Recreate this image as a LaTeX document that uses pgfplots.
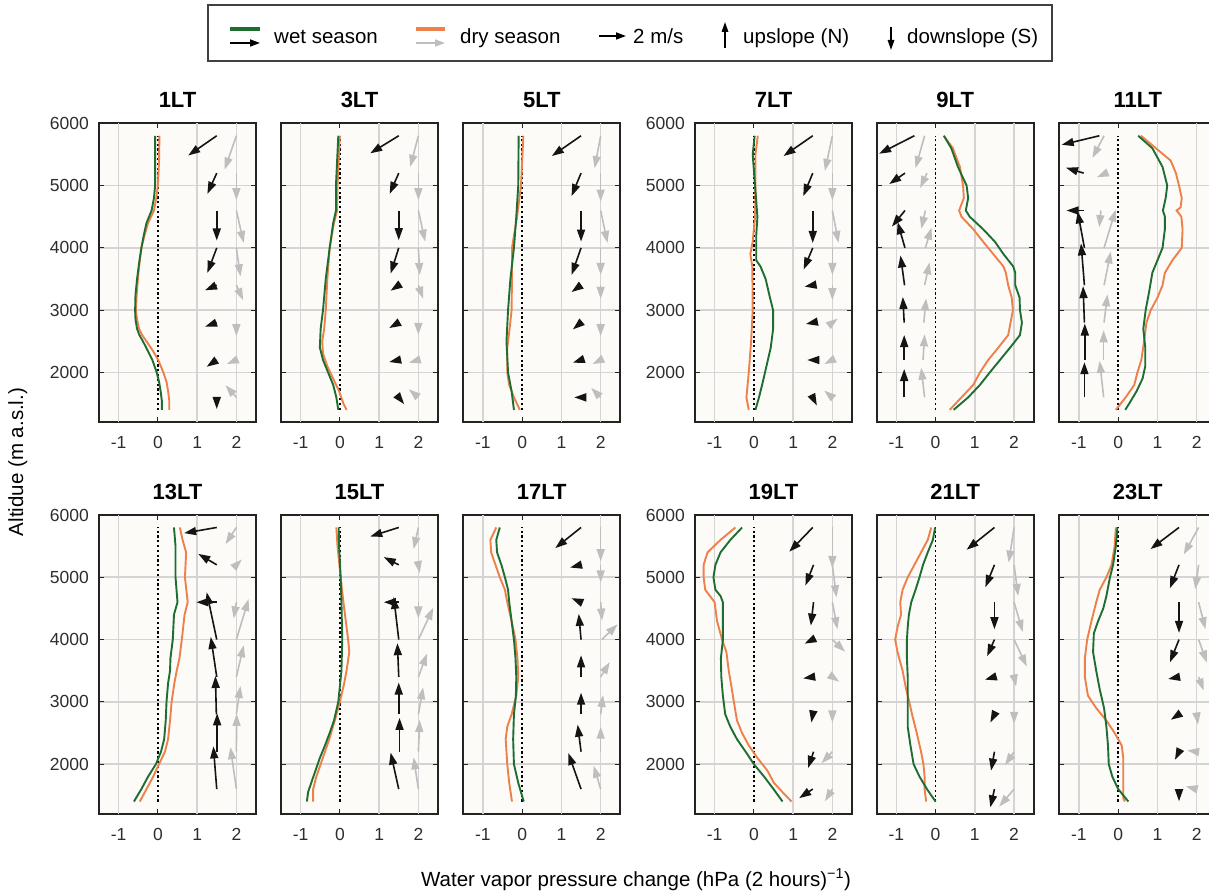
\documentclass[border=0pt]{standalone}
\usepackage{fontspec}
\setmainfont{Liberation Sans}
\usepackage{pgfplots}
\pgfplotsset{compat=1.18}
\usetikzlibrary{arrows.meta}
\definecolor{wetgreen}{RGB}{30,110,50}
\definecolor{dryorange}{RGB}{238,128,75}
\definecolor{arrgray}{RGB}{190,190,190}
\definecolor{gridgray}{RGB}{212,212,212}
\definecolor{bgcol}{RGB}{252,251,248}
\definecolor{framecol}{RGB}{35,35,35}
\definecolor{ticklab}{RGB}{45,45,45}
\newcommand\tickfont{\fontsize{17.5bp}{20bp}\selectfont}
\newcommand\legfont{\fontsize{20.5bp}{24bp}\selectfont}
\pgfplotsset{
  panel/.style={
    scale only axis, width=157bp, height=299bp,
    xmin=-1.5, xmax=2.5, ymin=1200, ymax=6000,
    xtick={-1,0,1,2}, xticklabels={-1,0,1,2},
    ytick={2000,3000,4000,5000,6000},
    tick align=inside, tick pos=both,
    major tick length=5bp,
    tick style={draw=framecol, line width=1bp},
    axis line style={draw=framecol, line width=1.8bp},
    axis background/.style={fill=bgcol},
    ymajorgrids,
    extra x ticks={-1,1,2}, extra x tick labels={},
    extra x tick style={xmajorgrids=true, major tick length=0pt},
    grid style={draw=gridgray, line width=1.6bp},
    xticklabel style={anchor=north, inner sep=0pt, yshift=-14bp, font=\tickfont, text=ticklab},
    yticklabel style={anchor=east, inner sep=0pt, xshift=-10bp, font=\tickfont, text=ticklab},
    title style={at={(0.5,1)}, anchor=base, yshift=10bp, font=\fontsize{22bp}{24bp}\selectfont\bfseries},
    clip=false,
  },
  ylab/.style={yticklabels={2000,3000,4000,5000,6000}},
  noylab/.style={yticklabels={}},
  wetc/.style={draw=wetgreen, line width=1.9bp, no markers},
  dryc/.style={draw=dryorange, line width=1.9bp, no markers},
  zerol/.style={draw=black, line width=1.6bp, dash pattern=on 2.2bp off 2.6bp, no markers},
  wetq/.style={draw=black!92, fill=black!92, line width=1.6bp, no markers, -{Triangle[length=12bp,width=8bp]}, quiver={u=\thisrow{u}*0.346, v=\thisrow{v}*216.9}},
  dryq/.style={draw=arrgray, fill=arrgray, line width=1.6bp, no markers, -{Triangle[length=12bp,width=8bp]}, quiver={u=\thisrow{u}*0.346, v=\thisrow{v}*216.9}},
}
\begin{document}
\begin{tikzpicture}
%================ 1LT
\begin{axis}[panel, ylab, at={(99bp,471.7bp)}, anchor=south west, title={1LT}]
\addplot[zerol] coordinates {(0,1400) (0,5800)};
\addplot[dryc] table {
x y
0.04 5800
0.03 5400
0.0 5000
-0.04 4800
-0.1 4600
-0.25 4400
-0.34 4200
-0.42 4000
-0.47 3750
-0.51 3500
-0.54 3250
-0.56 3000
-0.53 2850
-0.48 2700
-0.4 2600
-0.29 2500
-0.13 2350
0.01 2200
0.14 2000
0.22 1850
0.26 1700
0.29 1550
0.29 1400
};
\addplot[wetc] table {
x y
-0.07 5800
-0.07 5400
-0.07 5000
-0.1 4800
-0.16 4600
-0.29 4400
-0.36 4200
-0.42 4000
-0.48 3750
-0.53 3500
-0.57 3250
-0.58 3000
-0.57 2850
-0.53 2700
-0.47 2600
-0.38 2500
-0.26 2350
-0.14 2200
-0.03 2000
0.03 1850
0.07 1700
0.1 1550
0.1 1400
};
\addplot[dryq] table {
x y u v
2 5800 -0.86 -2.5
2 5200 0 -2
2 4600 0.54 -2.4
2 4000 0.3 -2.1
2 3400 0.5 -1.1
2 2800 0 -1
2 2200 -0.7 -0.3
2 1600 -0.8 0.9
};
\addplot[wetq] table {
x y u v
1.5 5800 -2.1 -1.46
1.5 5200 -0.69 -1.53
1.5 4600 0 -2.22
1.5 4000 -0.69 -1.85
1.5 3400 -0.86 -0.37
1.5 2800 -0.86 -0.3
1.5 2200 -0.74 -0.5
1.5 1600 0 -0.86
};
\end{axis}
%================ 3LT
\begin{axis}[panel, noylab, at={(281bp,471.7bp)}, anchor=south west, title={3LT}]
\addplot[zerol] coordinates {(0,1400) (0,5800)};
\addplot[dryc] table {
x y
0.0 5800
-0.03 5400
-0.06 5000
-0.07 4600
-0.15 4400
-0.26 4000
-0.32 3500
-0.36 3000
-0.40 2700
-0.45 2500
-0.43 2300
-0.32 2100
-0.17 1900
-0.02 1700
0.09 1500
0.17 1400
};
\addplot[wetc] table {
x y
-0.04 5800
-0.07 5400
-0.1 5000
-0.1 4600
-0.17 4400
-0.26 4000
-0.36 3500
-0.43 3000
-0.49 2700
-0.51 2400
-0.43 2200
-0.3 2000
-0.17 1800
-0.09 1600
-0.04 1400
};
\addplot[dryq] table {
x y u v
2 5800 -0.6 -2.3
2 5200 0 -2
2 4600 0.5 -2.3
2 4000 0.1 -2
2 3400 0.35 -1.0
2 2800 0 -0.9
2 2200 -0.7 -0.2
2 1600 -0.7 0.6
};
\addplot[wetq] table {
x y u v
1.5 5800 -2.1 -1.3
1.5 5200 -0.67 -1.53
1.5 4600 0 -2.2
1.5 4000 -0.6 -1.9
1.5 3400 -0.6 -0.4
1.5 2800 -0.7 -0.4
1.5 2200 -0.7 -0.15
1.5 1600 0.4 -0.5
};
\end{axis}
%================ 5LT
\begin{axis}[panel, noylab, at={(463.3bp,471.7bp)}, anchor=south west, title={5LT}]
\addplot[zerol] coordinates {(0,1400) (0,5800)};
\addplot[dryc] table {
x y
0.03 5800
-0.03 5000
-0.13 4500
-0.26 4000
-0.26 3500
-0.27 3000
-0.32 2700
-0.38 2400
-0.38 2000
-0.33 1800
-0.21 1600
-0.06 1400
};
\addplot[wetc] table {
x y
-0.09 5800
-0.1 5000
-0.15 4500
-0.21 4000
-0.3 3500
-0.36 3000
-0.4 2500
-0.36 2000
-0.27 1700
-0.21 1400
};
\addplot[dryq] table {
x y u v
2 5800 -0.45 -2.4
2 5200 0 -2.1
2 4600 0.5 -2.4
2 4000 0 -2
2 3400 0 -1
2 2800 0 -1
2 2200 -0.6 -0.3
2 1600 -0.7 0.7
};
\addplot[wetq] table {
x y u v
1.5 5800 -2.15 -1.5
1.5 5200 -0.7 -1.7
1.5 4600 0 -2.3
1.5 4000 -0.7 -2.0
1.5 3400 -0.7 -0.5
1.5 2800 -0.6 -0.5
1.5 2200 -0.6 -0.2
1.5 1600 -0.5 0
};
\end{axis}
%================ 7LT
\begin{axis}[panel, ylab, at={(695bp,471.7bp)}, anchor=south west, title={7LT}]
\addplot[zerol] coordinates {(0,1400) (0,5800)};
\addplot[dryc] table {
x y
0.1 5800
0.04 5500
0.04 5000
0.03 4500
-0.03 4100
-0.09 3900
-0.04 3700
-0.03 3000
-0.07 2500
-0.13 2000
-0.19 1600
-0.13 1400
};
\addplot[wetc] table {
x y
0.02 5800
-0.03 5500
0.03 5000
0.09 4500
0.06 4200
0.06 3800
0.17 3700
0.3 3500
0.41 3200
0.49 3000
0.49 2700
0.43 2400
0.32 2100
0.21 1800
0.13 1600
0.04 1400
};
\addplot[dryq] table {
x y u v
2 5800 -0.55 -2.6
2 5200 0 -2
2 4600 0.45 -2.4
2 4000 0 -2
2 3400 0 -1.1
2 2800 0.4 0.3
2 2200 -0.6 -0.3
2 1600 -0.6 0.5
};
\addplot[wetq] table {
x y u v
1.5 5800 -2.15 -1.5
1.5 5200 -0.7 -1.7
1.5 4600 0 -2.4
1.5 4000 -0.67 -1.6
1.5 3400 -0.6 -0.1
1.5 2800 -0.5 -0.1
1.5 2200 -0.4 0
1.5 1600 0.3 -0.6
};
\end{axis}
%================ 9LT
\begin{axis}[panel, noylab, at={(876.7bp,471.7bp)}, anchor=south west, title={9LT}]
\addplot[zerol] coordinates {(0,1400) (0,5800)};
\addplot[dryc] table {
x y
0.21 5800
0.44 5600
0.62 5300
0.70 5000
0.72 4800
0.60 4600
0.66 4500
0.96 4300
1.21 4100
1.47 3900
1.73 3700
1.79 3600
1.85 3400
1.94 3200
1.97 3000
1.91 2800
1.85 2600
1.6 2400
1.34 2200
1.13 2000
0.96 1800
0.66 1600
0.36 1400
};
\addplot[wetc] table {
x y
0.21 5800
0.40 5600
0.57 5300
0.79 5000
0.83 4800
0.77 4600
0.87 4500
1.21 4300
1.51 4100
1.73 3900
1.98 3700
2.03 3600
2.03 3400
2.14 3200
2.15 3000
2.2 2800
2.15 2600
1.9 2400
1.64 2200
1.38 2000
1.13 1800
0.83 1600
0.46 1400
};
\addplot[dryq] table {
x y u v
-0.28 5800 -0.67 -2.4
-0.22 5200 -0.5 -1.1
-0.26 4600 -0.3 -1.35
-0.26 4000 0.45 1.5
-0.28 3400 0.37 1.7
-0.3 2800 0.17 1.8
-0.32 2200 0.12 1.9
-0.28 1600 -0.25 2.2
};
\addplot[wetq] table {
x y u v
-0.54 5800 -2.6 -1.33
-0.78 5200 -1.16 -0.81
-0.78 4600 -0.96 -1.19
-0.78 4000 -0.54 1.9
-0.79 3400 -0.3 2.2
-0.8 2800 -0.1 1.9
-0.8 2200 0 1.85
-0.8 1600 0 2.1
};
\end{axis}
%================ 11LT
\begin{axis}[panel, noylab, at={(1059.3bp,471.7bp)}, anchor=south west, title={11LT}]
\addplot[zerol] coordinates {(0,1400) (0,5800)};
\addplot[dryc] table {
x y
0.58 5800
0.96 5600
1.34 5400
1.47 5200
1.55 5000
1.62 4800
1.59 4650
1.49 4600
1.61 4500
1.64 4300
1.62 4000
1.38 3800
1.19 3600
1.13 3400
1.0 3200
0.83 3000
0.72 2800
0.66 2500
0.59 2200
0.49 2000
0.41 1800
0.19 1600
-0.06 1400
};
\addplot[wetc] table {
x y
0.51 5800
0.87 5600
1.13 5300
1.25 5000
1.21 4800
1.14 4600
1.19 4500
1.19 4300
1.13 4000
1.0 3800
0.87 3600
0.79 3300
0.7 3000
0.64 2700
0.69 2400
0.69 2100
0.62 1900
0.47 1700
0.28 1500
0.18 1400
};
\addplot[dryq] table {
x y u v
-0.36 5800 -0.86 -1.65
-0.3 5200 -0.7 -0.3
-0.44 4600 -0.12 -1.23
-0.36 4000 0.86 2.84
-0.36 3400 0.5 2.5
-0.36 2800 0.25 2.1
-0.37 2200 0 2.2
-0.37 1600 -0.3 2.7
};
\addplot[wetq] table {
x y u v
-0.48 5800 -2.77 -0.67
-0.88 5200 -1.3 0.4
-0.88 4600 -1.26 0
-0.86 4000 -0.5 2.7
-0.86 3400 -0.25 3.1
-0.86 2800 -0.1 2.7
-0.85 2200 0 2.7
-0.86 1600 0 2.6
};
\end{axis}
%================ 13LT
\begin{axis}[panel, ylab, at={(99bp,80bp)}, anchor=south west, title={13LT}]
\addplot[zerol] coordinates {(0,1400) (0,5800)};
\addplot[dryc] table {
x y
0.56 5800
0.63 5600
0.72 5400
0.69 5000
0.76 4600
0.68 4400
0.61 4000
0.55 3700
0.48 3500
0.42 3300
0.35 3000
0.31 2700
0.26 2400
0.18 2200
0.03 2000
-0.12 1800
-0.29 1600
-0.46 1400
};
\addplot[wetc] table {
x y
0.41 5800
0.45 5500
0.45 5000
0.5 4600
0.41 4400
0.38 4000
0.32 3700
0.31 3500
0.26 3300
0.22 3000
0.2 2700
0.16 2400
0.08 2200
-0.05 2000
-0.25 1800
-0.42 1600
-0.61 1400
};
\addplot[dryq] table {
x y u v
2 5800 -0.8 -1.23
2 5200 0.4 0.4
2 4600 -0.2 -1.2
2 4000 0.9 3.0
2 3400 0.54 2.35
2 2800 0.3 2.1
2 2200 0.02 2.8
2 1600 -0.44 3.1
};
\addplot[wetq] table {
x y u v
1.5 5800 -2.4 -0.42
1.5 5200 -1.36 0.81
1.5 4600 -1.5 0
1.5 4000 -0.74 3.5
1.5 3400 -0.44 2.96
1.49 2800 -0.07 2.84
1.51 2200 0 2.84
1.5 1600 -0.25 3.16
};
\end{axis}
%================ 15LT
\begin{axis}[panel, noylab, at={(281bp,80bp)}, anchor=south west, title={15LT}]
\addplot[zerol] coordinates {(0,1400) (0,5800)};
\addplot[dryc] table {
x y
-0.09 5800
-0.06 5500
0.02 5000
0.09 4600
0.17 4200
0.21 4000
0.24 3800
0.17 3500
0.11 3300
0.0 3000
-0.13 2700
-0.27 2400
-0.38 2200
-0.49 2000
-0.6 1800
-0.68 1600
-0.68 1400
};
\addplot[wetc] table {
x y
-0.03 5800
-0.02 5500
0.02 5000
0.04 4600
0.06 4000
0.04 3500
-0.04 3000
-0.15 2700
-0.26 2500
-0.38 2300
-0.51 2100
-0.62 1900
-0.73 1700
-0.81 1550
-0.84 1400
};
\addplot[dryq] table {
x y u v
2 5800 -0.35 -1.6
2 5200 0.1 -0.6
2 4600 0 -1.2
2 4000 1.1 2.35
2 3400 0.64 1.73
2 2800 0.35 2.0
2 2200 0.1 2.35
2 1600 -0.35 2.35
};
\addplot[wetq] table {
x y u v
1.5 5800 -2.1 -0.67
1.5 5200 -1.1 0.57
1.5 4600 -1.1 0
1.5 4000 -0.37 3.16
1.5 3400 -0.1 2.5
1.5 2800 0 2.35
1.52 2200 0 2.5
1.5 1600 -0.6 2.7
};
\end{axis}
%================ 17LT
\begin{axis}[panel, noylab, at={(463.3bp,80bp)}, anchor=south west, title={17LT}]
\addplot[zerol] coordinates {(0,1400) (0,5800)};
\addplot[dryc] table {
x y
-0.66 5800
-0.81 5600
-0.79 5400
-0.68 5200
-0.57 5000
-0.44 4800
-0.38 4600
-0.27 4300
-0.17 4000
-0.12 3700
-0.1 3400
-0.15 3100
-0.27 2800
-0.38 2600
-0.42 2400
-0.38 2000
-0.33 1700
-0.26 1400
};
\addplot[wetc] table {
x y
-0.57 5800
-0.66 5600
-0.64 5400
-0.53 5200
-0.44 5000
-0.36 4800
-0.33 4600
-0.27 4300
-0.21 4000
-0.17 3700
-0.15 3400
-0.16 3100
-0.21 2800
-0.23 2400
-0.21 2000
-0.1 1700
0.04 1400
};
\addplot[dryq] table {
x y u v
2 5800 0 -2.5
2 5200 0 -1.3
2 4600 0.1 -1.36
2.03 4000 1.16 1.13
2 3400 0.67 1.1
2 2800 0.17 1.43
2 2200 0 1.85
2 1600 -0.52 1.73
};
\addplot[wetq] table {
x y u v
1.5 5800 -1.9 -1.53
1.5 5200 -0.8 -0.2
1.5 4600 -0.7 0.3
1.5 4000 -0.17 1.9
1.5 3400 0 1.6
1.5 2800 0 1.6
1.5 2200 -0.25 2.0
1.5 1600 -0.94 2.67
};
\end{axis}
%================ 19LT
\begin{axis}[panel, ylab, at={(695bp,80bp)}, anchor=south west, title={19LT}]
\addplot[zerol] coordinates {(0,1400) (0,5800)};
\addplot[dryc] table {
x y
-0.47 5800
-0.85 5600
-1.18 5400
-1.28 5200
-1.28 5000
-1.24 4800
-1.0 4600
-0.94 4300
-0.81 4000
-0.7 3800
-0.64 3500
-0.56 3200
-0.51 3000
-0.43 2700
-0.3 2500
-0.13 2300
0.09 2100
0.34 1900
0.51 1700
0.73 1550
0.96 1400
};
\addplot[wetc] table {
x y
-0.3 5800
-0.6 5600
-0.85 5400
-0.98 5200
-1.03 5000
-0.98 4800
-0.85 4700
-0.79 4600
-0.79 4300
-0.79 4000
-0.84 3700
-0.83 3400
-0.79 3100
-0.73 2800
-0.6 2600
-0.43 2400
-0.21 2200
0.0 2000
0.26 1800
0.5 1600
0.73 1400
};
\addplot[dryq] table {
x y u v
2 5800 0 -3.0
2 5200 0.3 -2.4
2 4600 0.37 -2.0
2 4000 0.94 -0.9
2 3400 0.5 -0.35
2 2800 0 -0.6
2 2200 -0.8 -0.86
2 1600 -0.55 -0.9
};
\addplot[wetq] table {
x y u v
1.5 5800 -1.73 -1.8
1.52 5200 -0.6 -1.53
1.52 4600 -0.2 -1.73
1.5 4000 -0.6 -0.3
1.5 3400 -0.7 -0.1
1.5 2800 -0.1 -0.6
1.52 2200 -0.4 -1.2
1.5 1600 -1.0 -0.67
};
\end{axis}
%================ 21LT
\begin{axis}[panel, noylab, at={(876.7bp,80bp)}, anchor=south west, title={21LT}]
\addplot[zerol] coordinates {(0,1400) (0,5800)};
\addplot[dryc] table {
x y
-0.11 5800
-0.2 5600
-0.37 5400
-0.54 5200
-0.71 5000
-0.84 4800
-0.9 4600
-0.88 4400
-0.97 4200
-1.03 4000
-0.97 3800
-0.84 3500
-0.75 3200
-0.67 3000
-0.6 2800
-0.48 2500
-0.37 2200
-0.31 2000
-0.28 1800
-0.28 1600
-0.24 1400
};
\addplot[wetc] table {
x y
-0.01 5800
-0.07 5600
-0.2 5400
-0.32 5200
-0.41 5000
-0.51 4800
-0.62 4600
-0.68 4400
-0.71 4200
-0.73 4000
-0.73 3700
-0.71 3400
-0.71 3000
-0.71 2600
-0.64 2300
-0.56 2000
-0.41 1800
-0.22 1600
0.0 1400
};
\addplot[dryq] table {
x y u v
2 5800 -0.4 -2.6
2 5200 0.3 -2.3
2 4600 0.64 -2.2
2 4000 0.94 -2.0
2 3400 0.15 -0.7
2 2800 0 -0.7
2 2200 -0.67 -1.0
2 1600 -1.1 -1.3
};
\addplot[wetq] table {
x y u v
1.5 5800 -2.05 -1.65
1.5 5200 -0.67 -1.65
1.5 4600 0 -2.0
1.5 4000 -0.54 -1.23
1.5 3400 -0.7 -0.2
1.5 2800 -0.3 -0.6
1.5 2200 -0.25 -1.4
1.5 1600 -0.3 -1.35
};
\end{axis}
%================ 23LT
\begin{axis}[panel, noylab, at={(1059.3bp,80bp)}, anchor=south west, title={23LT}]
\addplot[zerol] coordinates {(0,1400) (0,5800)};
\addplot[dryc] table {
x y
-0.06 5800
-0.09 5500
-0.17 5200
-0.3 5000
-0.47 4800
-0.56 4600
-0.68 4300
-0.79 4000
-0.85 3700
-0.85 3400
-0.77 3100
-0.56 2900
-0.3 2700
-0.09 2500
0.09 2300
0.13 2100
0.13 1900
0.13 1600
0.13 1450
0.17 1400
};
\addplot[wetc] table {
x y
-0.02 5800
-0.06 5500
-0.13 5200
-0.21 5000
-0.3 4700
-0.38 4500
-0.51 4300
-0.62 4100
-0.64 3800
-0.56 3500
-0.47 3200
-0.36 2900
-0.3 2600
-0.26 2300
-0.24 2000
-0.15 1800
0.0 1600
0.26 1400
};
\addplot[dryq] table {
x y u v
2.05 5800 -1.1 -2.0
2.05 5200 -0.25 -1.8
2.05 4600 0.5 -2.0
2.05 4000 0.6 -1.7
2.05 3400 0.37 -1.0
2 2800 0.1 -0.75
2 2200 -0.7 0.1
2 1600 -0.8 0.2
};
\addplot[wetq] table {
x y u v
1.55 5800 -2.1 -1.6
1.55 5200 -0.67 -1.73
1.55 4600 0 -2.27
1.55 4000 -0.67 -1.68
1.55 3400 -0.8 -0.15
1.55 2800 -0.6 -0.4
1.55 2200 -0.3 -0.6
1.55 1600 0 -0.9
};
\end{axis}
%================ labels and legend
\node[rotate=90, anchor=base, font=\legfont, inner sep=0pt] at (23bp,432bp) {Altidue (m a.s.l.)};
\node[anchor=base, font=\legfont, inner sep=0pt] at (636bp,8bp) {Water vapor pressure change (hPa (2 hours)\textsuperscript{−1})};
\draw[draw=black!75, line width=1.3bp] (208bp,833bp) rectangle (1052bp,889bp);
\draw[wetgreen, line width=4bp] (230bp,865bp) -- (260bp,865bp);
\draw[black, line width=1.6bp, -{Triangle[length=10bp,width=7bp]}] (230bp,851bp) -- (260bp,851bp);
\node[anchor=base west, inner sep=0pt, font=\legfont] at (274bp,850bp) {wet season};
\draw[dryorange, line width=4bp] (416bp,865bp) -- (445bp,865bp);
\draw[arrgray, line width=1.6bp, -{Triangle[length=10bp,width=7bp]}] (416bp,851bp) -- (445bp,851bp);
\node[anchor=base west, inner sep=0pt, font=\legfont] at (460bp,850bp) {dry season};
\draw[black, line width=1.6bp, -{Triangle[length=10bp,width=7bp]}] (599bp,858bp) -- (626bp,858bp);
\node[anchor=base west, inner sep=0pt, font=\legfont] at (633bp,850bp) {2 m/s};
\draw[black, line width=1.6bp, -{Triangle[length=10bp,width=6.5bp]}] (725bp,846bp) -- (725bp,872bp);
\node[anchor=base west, inner sep=0pt, font=\legfont] at (743bp,850bp) {upslope (N)};
\draw[black, line width=1.6bp, -{Triangle[length=10bp,width=6.5bp]}] (891bp,867bp) -- (891bp,844bp);
\node[anchor=base west, inner sep=0pt, font=\legfont] at (907bp,850bp) {downslope (S)};
\pgfresetboundingbox
\useasboundingbox (0,0) rectangle (1209bp,894bp);
\end{tikzpicture}
\end{document}
